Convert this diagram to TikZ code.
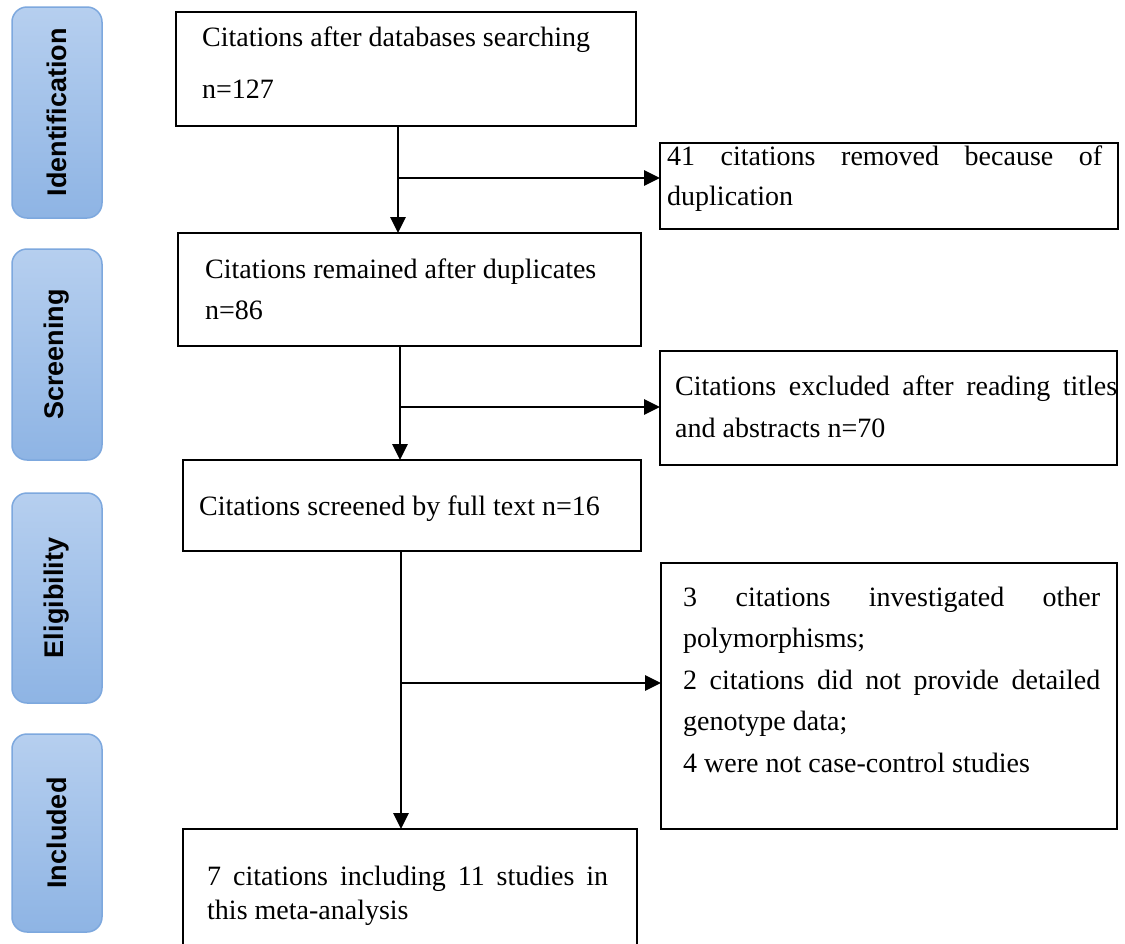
\documentclass[tikz,border=0pt]{standalone}
\usepackage{fontspec}
\setmainfont{Liberation Serif}
\newfontfamily\labelfont{Liberation Sans}
\usetikzlibrary{arrows.meta}
\definecolor{phtop}{RGB}{182,207,239}
\definecolor{phbot}{RGB}{142,180,228}
\definecolor{phline}{RGB}{125,168,222}
\newcommand{\jline}[2]{\makebox[#1][s]{\spaceskip=0pt\xspaceskip=0pt #2}}
\begin{document}
\begin{tikzpicture}[x=1pt,y=-1pt,
  flowbox/.style={draw=black, line width=2.7pt, anchor=north west, inner sep=0pt, outer sep=0pt},
  phasebox/.style={draw=phline, line width=1.5pt, rounded corners=15pt, top color=phtop, bottom color=phbot, minimum width=90pt, inner sep=0pt},
  phaselabel/.style={rotate=90, inner sep=0pt, font=\labelfont\bfseries\fontsize{27}{30}\selectfont},
  boxtext/.style={anchor=base west, inner sep=0pt, align=flush left, font=\fontsize{28}{41.5}\selectfont},
  arr/.style={line width=2.7pt, -{Triangle[length=16pt,width=15pt]}},
]
\fill[white] (0,0) rectangle (1125,943);
\useasboundingbox (0,0) rectangle (1125,943);

% phase labels
\node[phasebox, minimum height=211pt] (p1) at (57,112.5) {};
\node[phaselabel] at (p1) {Identification};
\node[phasebox, minimum height=211pt] (p2) at (57,354.5) {};
\node[phaselabel] at (p2) {Screening};
\node[phasebox, minimum height=210pt] (p3) at (57,598) {};
\node[phaselabel] at (p3) {Eligibility};
\node[phasebox, minimum height=198pt] (p4) at (57,833) {};
\node[phaselabel] at (p4) {Included};

% boxes
\node[flowbox, minimum width=460pt, minimum height=114pt] (b1) at (176,12) {};
\node[flowbox, minimum width=458pt, minimum height=86pt] (b2) at (660,143) {};
\node[flowbox, minimum width=463pt, minimum height=113pt] (b3) at (178,233) {};
\node[flowbox, minimum width=457pt, minimum height=114pt] (b4) at (660,351) {};
\node[flowbox, minimum width=458pt, minimum height=91pt] (b5) at (183,460) {};
\node[flowbox, minimum width=456pt, minimum height=266pt] (b6) at (661,563) {};
\node[flowbox, minimum width=454pt, minimum height=117pt] (b7) at (183,829) {};

% texts
\node[boxtext, text width=420pt, font=\fontsize{28}{52}\selectfont] (t1) at (202,46) {Citations after databases searching\\n=127};
\node[boxtext, text width=435pt, font=\fontsize{28}{40}\selectfont] (t2) at (667,165)
  {\jline{435pt}{41 citations removed because of}\\duplication};
\node[boxtext, text width=420pt, font=\fontsize{28}{41}\selectfont] (t3) at (205,278) {Citations remained after duplicates\\n=86};
\node[boxtext, text width=442pt, font=\fontsize{28}{42}\selectfont] (t4) at (675,395)
  {\jline{442pt}{Citations excluded after reading titles}\\and abstracts n=70};
\node[boxtext, text width=420pt] (t5) at (199,515) {Citations screened by full text n=16};
\node[boxtext, text width=417pt, font=\fontsize{28}{41.5}\selectfont] (t6) at (683,606)
  {\jline{417pt}{3 citations investigated other}\\polymorphisms;\\
   \jline{417pt}{2 citations did not provide detailed}\\genotype data;\\
   4 were not case-control studies};
\node[boxtext, text width=401pt, font=\fontsize{28}{34.5}\selectfont] (t7) at (207,885)
  {\jline{401pt}{7 citations including 11 studies in}\\this meta-analysis};

% connectors
\coordinate (j1) at (398,178);
\draw[arr] (j1 |- b1.south) -- (j1 |- b3.north);
\draw[arr] (j1) -- (j1 -| b2.west);
\coordinate (j2) at (400,407);
\draw[arr] (j2 |- b3.south) -- (j2 |- b5.north);
\draw[arr] (j2) -- (j2 -| b4.west);
\coordinate (j3) at (401,683);
\draw[arr] (j3 |- b5.south) -- (j3 |- b7.north);
\draw[arr] (j3) -- (j3 -| b6.west);
\end{tikzpicture}
\end{document}
